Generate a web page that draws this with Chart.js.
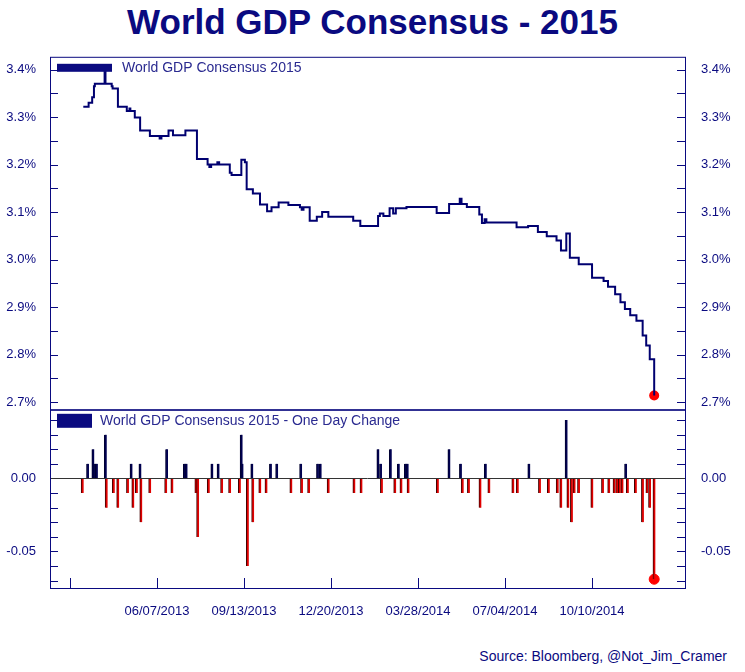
<!DOCTYPE html>
<html><head><meta charset="utf-8">
<script src="https://cdn.jsdelivr.net/npm/chart.js@4.4.1/dist/chart.umd.min.js"></script>
<style>
body{margin:0;width:745px;height:672px;background:#fff;position:relative;overflow:hidden;font-family:"Liberation Sans",Arial,sans-serif}
#title{position:absolute;top:0;left:0;width:745px;text-align:center;font-weight:bold;font-size:35px;color:#0a0a80;line-height:44px}
#c1{position:absolute;left:0;top:41px}
#c2{position:absolute;left:0;top:394px}
#src{position:absolute;right:18px;top:648px;font-size:14px;color:#0a0a80}
</style></head><body>
<div id="title">World GDP Consensus - 2015</div>
<canvas id="c1" width="745" height="384"></canvas>
<canvas id="c2" width="745" height="231"></canvas>
<div id="src">Source: Bloomberg, @Not_Jim_Cramer</div>
<script>
const baseDate = new Date(Date.UTC(2013,2,1));
const xTickDays = [0,98,196,294,392,490,588];
const lineDays = [15,21,25,27,28,39,40,47,48,54,64,67,68,73,79,90,101,103,111,116,130,143,155,157,159,166,168,180,182,193,197,199,206,214,222,227,235,246,259,261,263,270,278,284,291,319,327,347,349,353,360,364,367,379,413,427,439,441,447,461,464,467,469,503,516,527,537,548,553,559,563,573,588,601,606,614,620,625,631,638,645,649,653,657,658];
const lineValues = [3.322,3.33,3.342,3.365,3.37,3.40,3.37,3.365,3.36,3.322,3.313,3.318,3.313,3.299,3.272,3.26,3.255,3.26,3.272,3.262,3.272,3.212,3.20,3.195,3.20,3.205,3.20,3.183,3.178,3.21,3.205,3.148,3.139,3.116,3.102,3.11,3.12,3.115,3.11,3.105,3.11,3.082,3.09,3.10,3.09,3.082,3.071,3.092,3.097,3.092,3.108,3.097,3.108,3.111,3.098,3.117,3.128,3.117,3.111,3.095,3.077,3.085,3.078,3.068,3.071,3.058,3.049,3.040,3.019,3.055,3.004,2.99,2.962,2.955,2.943,2.927,2.91,2.896,2.883,2.871,2.84,2.819,2.79,2.79,2.714];
const changeDays = [14,20,26,28,30,40,41,49,54,65,69,71,75,79,80,90,108,109,115,129,131,142,144,156,160,167,171,180,191,193,194,200,205,206,214,221,226,233,249,260,261,269,279,282,291,320,328,347,350,351,361,366,370,373,378,380,381,414,427,440,442,449,462,468,472,499,504,517,529,539,549,553,559,561,565,568,573,588,600,607,613,616,619,622,626,628,637,645,650,653,658];
const changeValues = [-0.01,0.01,0.02,0.01,0.01,0.03,-0.02,-0.01,-0.02,-0.01,0.01,-0.02,-0.01,0.01,-0.03,-0.01,-0.01,0.02,-0.01,0.01,0.01,-0.01,-0.04,-0.01,0.01,0.01,-0.01,-0.01,-0.01,0.03,0.01,-0.06,0.01,-0.03,-0.01,-0.01,0.01,0.01,-0.01,0.01,-0.01,-0.01,0.01,0.01,-0.01,-0.01,-0.01,0.02,0.01,-0.01,0.02,-0.01,0.01,-0.01,0.01,0.01,-0.01,-0.01,0.02,0.01,-0.01,-0.01,-0.02,0.01,-0.01,-0.01,-0.01,0.01,-0.01,-0.01,-0.01,-0.02,0.04,-0.02,-0.03,-0.01,-0.01,-0.02,-0.01,-0.01,-0.01,-0.01,-0.01,-0.01,0.01,-0.01,-0.01,-0.03,-0.01,-0.02,-0.069];
const topTicks = [2.70,2.75,2.80,2.85,2.90,2.95,3.00,3.05,3.10,3.15,3.20,3.25,3.30,3.35,3.40];
const bottomTicks = [-0.07,-0.06,-0.05,-0.04,-0.03,-0.02,-0.01,0,0.01,0.02,0.03,0.04];
const NAVY = '#0a0a80';
const FONT = {family:'"Liberation Sans", Arial, sans-serif', size:13};
const XMIN = -22.5, XMAX = 692.7;

function fmtDate(d){const t=new Date(baseDate.getTime()+d*86400000);const p=n=>String(n).padStart(2,'0');return p(t.getUTCMonth()+1)+'/'+p(t.getUTCDate())+'/'+t.getUTCFullYear();}

const framePlugin = {
  id:'frame',
  afterDraw(chart, args, opts){
    const ctx=chart.ctx, a=chart.chartArea;
    ctx.save();
    ctx.strokeStyle=NAVY; ctx.lineWidth=1;
    ['y','y2'].forEach(id=>{
      const s=chart.scales[id]; if(!s) return;
      s.ticks.forEach(t=>{
        const py=Math.round(s.getPixelForValue(t.value))+0.5;
        ctx.beginPath();
        if(id==='y'){ctx.moveTo(a.left,py);ctx.lineTo(a.left+8,py);}
        else {ctx.moveTo(a.right,py);ctx.lineTo(a.right-8,py);}
        ctx.stroke();
      });
    });
    if(opts.xticks){
      const s=chart.scales.x;
      xTickDays.forEach(d=>{const px=Math.round(s.getPixelForValue(d))+0.5;ctx.beginPath();ctx.moveTo(px,a.bottom);ctx.lineTo(px,a.bottom-10);ctx.stroke();});
    }
    if(opts.zero){
      const py=Math.round(chart.scales.y.getPixelForValue(0))+0.5;
      ctx.strokeStyle='#333';ctx.beginPath();ctx.moveTo(a.left,py);ctx.lineTo(a.right,py);ctx.stroke();
      ctx.strokeStyle=NAVY;
    }
    ctx.strokeRect(a.left+0.5,a.top+0.5,a.right-a.left,a.bottom-a.top);
    ctx.fillStyle=NAVY;
    ctx.fillRect(a.left+opts.lx, a.top+opts.ly, opts.lw, opts.lh);
    ctx.font='14px "Liberation Sans", Arial, sans-serif';
    ctx.textBaseline='middle';
    ctx.fillStyle='#2a2a90';
    ctx.fillText(opts.label, a.left+opts.tx, a.top+opts.ly+opts.lh/2);
    ctx.restore();
  }
};

function yAxis(pos, ticks, fmt, isMajor, min, max){
  return {
    type:'linear', position:pos, min, max,
    afterBuildTicks:s=>{s.ticks=ticks.map(v=>({value:v}));},
    afterFit:s=>{s.width = pos==='left'?50:60;},
    grid:{display:false}, border:{display:false},
    ticks:{color:NAVY,font:FONT,padding:pos==='left'?6:8,autoSkip:false,callback:v=>isMajor(v)?fmt(v):''}
  };
}

const topMajor = v=>Math.abs(Math.round(v*10)-v*10)<1e-6;
new Chart(document.getElementById('c1'),{
  type:'line',
  data:{datasets:[
    {data:lineDays.map((d,i)=>({x:d,y:lineValues[i]})),stepped:true,borderColor:'#000070',borderWidth:2,pointRadius:0,fill:false},
    {data:[{x:lineDays[lineDays.length-1],y:lineValues[lineValues.length-1]}],borderWidth:0,pointRadius:5,pointBackgroundColor:'#ff0000',pointBorderColor:'#ff0000',showLine:false}
  ]},
  options:{
    responsive:false,animation:false,
    layout:{padding:{top:0,bottom:0}},
    plugins:{legend:{display:false},tooltip:{enabled:false},
      frame:{label:'World GDP Consensus 2015',lx:7,ly:7,lw:55,lh:8,tx:72}},
    scales:{
      x:{type:'linear',min:XMIN,max:XMAX,display:false},
      y:yAxis('left',topTicks,v=>v.toFixed(1)+'%',topMajor,2.685,3.427),
      y2:yAxis('right',topTicks,v=>v.toFixed(1)+'%',topMajor,2.685,3.427)
    }
  },
  plugins:[framePlugin]
});

const botMajor = v=>Math.abs(v)<1e-9||Math.abs(v+0.05)<1e-9;
new Chart(document.getElementById('c2'),{
  type:'bar',
  data:{datasets:[
    {type:'bar',data:changeDays.map((d,i)=>({x:d,y:changeValues[i]})),
     backgroundColor:changeValues.map(v=>v>=0?'#000050':'#e00000'),
     borderColor:changeValues.map(v=>v>=0?'#000030':'#400000'),borderWidth:{left:1,right:0,top:0,bottom:0},
     barThickness:2.5,grouped:false},
    {type:'scatter',data:[{x:changeDays[changeDays.length-1],y:changeValues[changeValues.length-1]}],pointRadius:5,pointBackgroundColor:'#ff0000',pointBorderColor:'#ff0000'}
  ]},
  options:{
    responsive:false,animation:false,
    layout:{padding:{top:0,bottom:0}},
    plugins:{legend:{display:false},tooltip:{enabled:false},
      frame:{zero:true,xticks:true,label:'World GDP Consensus 2015 - One Day Change',lx:7,ly:4,lw:35,lh:14,tx:50}},
    scales:{
      x:{type:'linear',min:XMIN,max:XMAX,offset:false,
        afterBuildTicks:s=>{s.ticks=xTickDays.map(v=>({value:v}));},
        afterFit:s=>{s.height=37;},
        grid:{display:false},border:{display:false},
        ticks:{color:NAVY,font:FONT,maxRotation:0,autoSkip:false,padding:8,callback:v=>v===0?'':fmtDate(v)}},
      y:yAxis('left',bottomTicks,v=>v.toFixed(2),botMajor,-0.075,0.047),
      y2:yAxis('right',bottomTicks,v=>v.toFixed(2),botMajor,-0.075,0.047)
    }
  },
  plugins:[framePlugin]
});
</script>
</body></html>
